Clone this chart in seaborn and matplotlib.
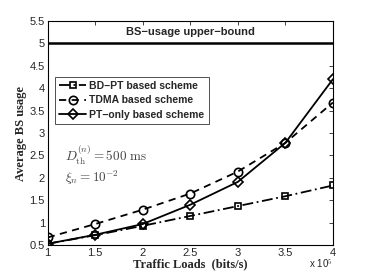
import numpy as np
import pandas as pd
import matplotlib
matplotlib.use("Agg")
import matplotlib.pyplot as plt
import seaborn as sns

# traffic loads (x 10^5 bits/s)
loads = [1, 1.5, 2, 2.5, 3, 3.5, 4]
bdpt = [0.53, 0.72, 0.93, 1.15, 1.37, 1.59, 1.83]
tdma = [0.67, 0.97, 1.29, 1.65, 2.14, 2.78, 3.68]
ptonly = [0.53, 0.73, 0.97, 1.40, 1.91, 2.78, 4.20]
upper_bound = 5

sns.set_style("white")
plt.rcParams['font.family'] = ['Liberation Sans', 'DejaVu Sans']
plt.rcParams['mathtext.fontset'] = 'cm'

fig, ax = plt.subplots(figsize=(3.67, 2.76), dpi=100)

series = [
    ("BD\u2212PT based scheme", bdpt, "s", (0, (6, 2, 1, 2)), 4),
    ("TDMA based scheme", tdma, "o", (0, (4, 3)), 6),
    ("PT\u2212only based scheme", ptonly, "D", "-", 5),
]
for name, vals, mk, ls, ms in series:
    df = pd.DataFrame({"x": loads, "y": vals})
    sns.lineplot(data=df, x="x", y="y", ax=ax, color="black", linewidth=1.3,
                 linestyle=ls, marker=mk, markersize=ms, markerfacecolor="none",
                 markeredgecolor="black", markeredgewidth=1.2, label=name)

ax.axhline(upper_bound, color="black", linewidth=1.8)
ax.text(2.5, 5.25, "BS\u2212usage upper\u2212bound", ha="center", va="center",
        fontsize=8, fontweight="bold")

ax.set_xlim(1, 4)
ax.set_ylim(0.5, 5.5)
ax.set_xticks(loads)
ax.set_xticklabels(["1", "1.5", "2", "2.5", "3", "3.5", "4"])
ax.set_yticks(np.arange(0.5, 5.6, 0.5))
ax.set_yticklabels(["0.5", "1", "1.5", "2", "2.5", "3", "3.5", "4", "4.5", "5", "5.5"])
ax.tick_params(direction="in", top=True, right=True, labelsize=8, length=3,
               width=0.6, pad=2)
for s in ax.spines.values():
    s.set_color("black")
    s.set_linewidth(0.8)

ax.set_xlabel("Traffic Loads  (bits/s)", family=['Liberation Serif'],
              fontweight="bold", fontsize=9, labelpad=0)
ax.set_ylabel("Average BS usage", family=['Liberation Serif'],
              fontweight="bold", fontsize=9, labelpad=2)
fig.text(0.907, 0.045, r"x 10$^5$", ha="right", va="center", fontsize=7)

ax.text(1.18, 2.5, r"$D_{\rm th}^{(n)} = 500\ {\rm ms}$", fontsize=9.5,
        color="#444444", va="center")
ax.text(1.18, 2.0, r"$\xi_n = 10^{-2}$", fontsize=9.5, color="#444444",
        va="center")

leg = ax.legend(loc="upper left", bbox_to_anchor=(0.025, 0.752), fontsize=7.5,
                frameon=True, fancybox=False, edgecolor="black",
                borderpad=0.4, labelspacing=0.45, handlelength=2.6,
                handletextpad=0.3, borderaxespad=0)
leg.get_frame().set_linewidth(0.6)
for t in leg.get_texts():
    t.set_fontweight("bold")

fig.subplots_adjust(left=0.13, right=0.907, top=0.924, bottom=0.112)
fig.savefig("out.png", dpi=100)
